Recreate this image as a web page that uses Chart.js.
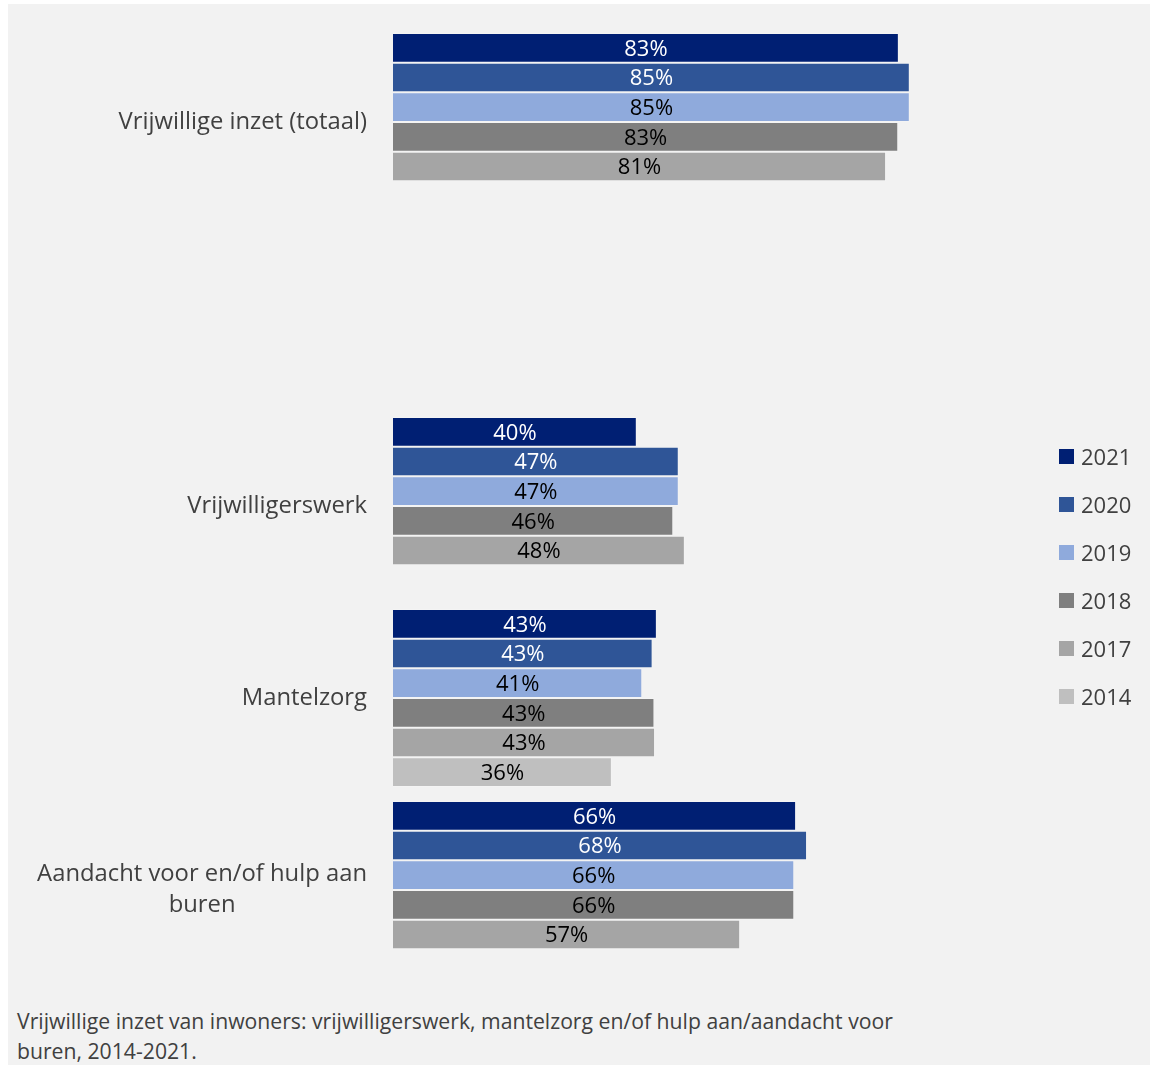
<!DOCTYPE html>
<html>
<head>
<meta charset="utf-8">
<script src="https://cdn.jsdelivr.net/npm/chart.js@4"></script>
<style>
  html, body { margin: 0; padding: 0; background: #fff; }
  #panel { position: absolute; left: 8px; top: 4px; width: 1142px; height: 1061px; background: #f2f2f2; }
  #chart { position: absolute; left: 0; top: 0; }
  #legend { position: absolute; left: 1059px; top: 432px; font-family: "Open Sans"; font-size: 22px; color: #404040; }
  #legend .item { height: 48px; display: flex; align-items: center; }
  #legend .box { width: 15px; height: 15px; margin-right: 7px; }
  #caption { position: absolute; left: 17px; top: 1006px; font-family: "Open Sans"; font-size: 21.2px; line-height: 30px; color: #404040; }
</style>
</head>
<body>
<div id="panel"></div>
<canvas id="chart" width="1150" height="1000"></canvas>
<div id="legend"></div>
<div id="caption">Vrijwillige inzet van inwoners: vrijwilligerswerk, mantelzorg en/of hulp aan/aandacht voor<br>buren, 2014-2021.</div>
<script>
// categories (the empty one keeps the gap under the total)
const categories = ["Vrijwillige inzet (totaal)", "", "Vrijwilligerswerk", "Mantelzorg", ["Aandacht voor en/of hulp aan", "buren"]];
const years = ["2021", "2020", "2019", "2018", "2017", "2014"];

// percentages per year, same order as categories
const y2021 = [83.2, null, 40.1, 43.4, 66.3];
const y2020 = [85.0, null, 47.0, 42.7, 68.1];
const y2019 = [85.0, null, 47.0, 41.0, 66.0];
const y2018 = [83.1, null, 46.1, 43.0, 66.0];
const y2017 = [81.1, null, 48.0, 43.1, 57.1];
const y2014 = [null, null, null, 36.0, null];

const series = [y2021, y2020, y2019, y2018, y2017, y2014];
const colors = ["#001f73", "#2f5597", "#8faadc", "#7f7f7f", "#a5a5a5", "#bfbfbf"];
const labelColors = ["#ffffff", "#ffffff", "#000000", "#000000", "#000000", "#000000"];

// value labels in the middle of each bar
const valueLabels = {
    id: "valueLabels",
    afterDatasetsDraw(chart) {
        const ctx = chart.ctx;
        ctx.save();
        ctx.font = '22px "Open Sans"';
        ctx.textAlign = "center";
        ctx.textBaseline = "middle";
        chart.data.datasets.forEach(function (ds, di) {
            const meta = chart.getDatasetMeta(di);
            ctx.fillStyle = labelColors[di];
            meta.data.forEach(function (bar, i) {
                const v = ds.data[i];
                if (v == null) return;
                const p = bar.getProps(["x", "y", "base"], true);
                ctx.fillText(Math.round(v) + "%", (p.x + p.base) / 2, p.y + 1.5);
            });
        });
        ctx.restore();
    }
};

// category labels: right aligned, multi-line ones centred on their widest line
const categoryLabels = {
    id: "categoryLabels",
    afterDraw(chart) {
        const ctx = chart.ctx;
        const scale = chart.scales.y;
        ctx.save();
        ctx.font = '23.8px "Open Sans"';
        ctx.fillStyle = "#404040";
        ctx.textAlign = "center";
        ctx.textBaseline = "middle";
        chart.data.labels.forEach(function (lab, i) {
            const lines = [].concat(lab);
            const w = Math.max.apply(null, lines.map(function (l) { return ctx.measureText(l).width; }));
            const cx = scale.right - 26 - w / 2;
            const cy = scale.getPixelForValue(i);
            lines.forEach(function (l, k) {
                ctx.fillText(l, cx, cy + (k - (lines.length - 1) / 2) * 31);
            });
        });
        ctx.restore();
    }
};

const chart = new Chart(document.getElementById("chart"), {
    type: "bar",
    data: {
        labels: categories,
        datasets: years.map(function (yr, i) {
            return {
                label: yr,
                data: series[i],
                backgroundColor: colors[i],
                borderColor: "rgba(255,255,255,0.18)",
                borderWidth: 1,
                barPercentage: 1,
                categoryPercentage: 0.927
            };
        })
    },
    options: {
        indexAxis: "y",
        responsive: false,
        animation: false,
        layout: { padding: { top: 26, bottom: 14, left: 0, right: 149 } },
        scales: {
            x: { display: false, min: 0, max: 100 },
            y: {
                ticks: { display: false },
                grid: { display: false, drawTicks: false },
                border: { display: false },
                afterFit: function (s) { s.width = 393; }
            }
        },
        plugins: {
            legend: { display: false },
            tooltip: { enabled: false }
        }
    },
    plugins: [valueLabels, categoryLabels]
});

// legend built from the datasets
const legend = document.getElementById("legend");
chart.data.datasets.forEach(function (ds) {
    const item = document.createElement("div");
    item.className = "item";
    item.innerHTML = '<span class="box" style="background:' + ds.backgroundColor + '"></span>' + ds.label;
    legend.appendChild(item);
});
</script>
</body>
</html>
